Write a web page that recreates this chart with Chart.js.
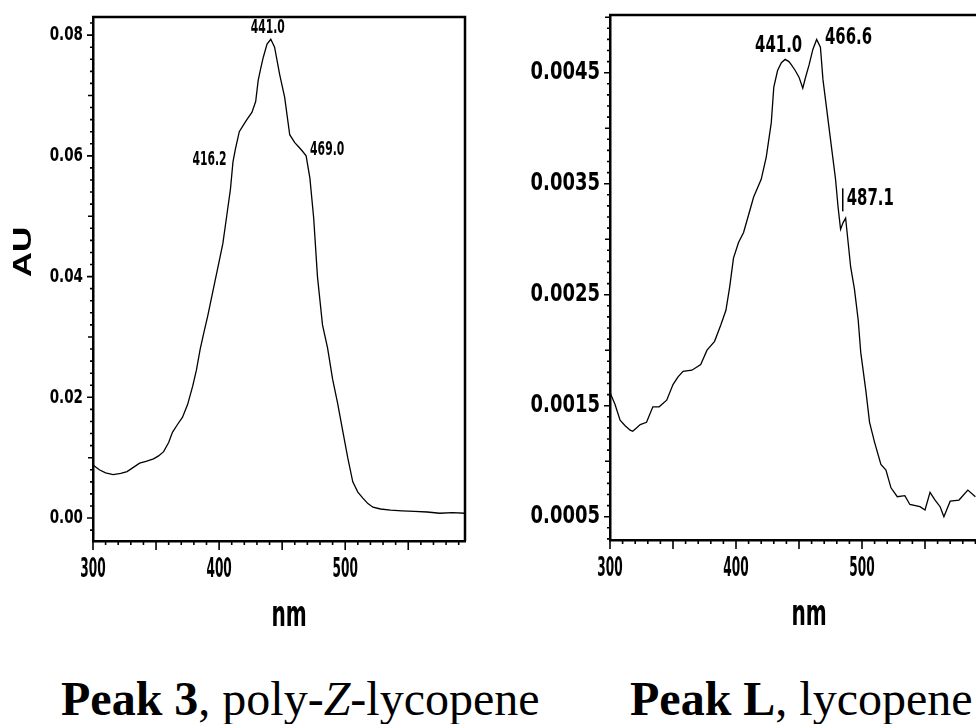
<!DOCTYPE html>
<html>
<head>
<meta charset="utf-8">
<script src="https://cdn.jsdelivr.net/npm/chart.js@4.4.1/dist/chart.umd.min.js"></script>
<style>
  html, body { margin:0; padding:0; background:#fff; overflow:hidden; width:976px; height:724px; }
  .panel { position:absolute; top:0; width:480px; height:640px; }
  #leftWrap { left:0; }
  #rightWrap { left:520px; }
  .caption { position:absolute; top:675px; font-family:'Liberation Serif','Times New Roman',serif;
             font-size:48px; line-height:1; white-space:nowrap; color:#000; }
</style>
</head>
<body>
<div class="panel" id="leftWrap"><canvas id="leftChart"></canvas></div>
<div class="panel" id="rightWrap"><canvas id="rightChart"></canvas></div>
<div class="caption" style="left:61px"><b>Peak 3</b>, poly-<i>Z</i>-lycopene</div>
<div class="caption" style="left:630px"><b>Peak L</b>, lycopene</div>

<script>
// ── Data: Peak 3 (poly-Z-lycopene) ─────────────
const nmLeft = [300,305,310,316,322,327,332,337,342,348,352,356,360,363,367,371,375,379,382,385,
  388,391,395,399,403,406,409,411,413,416,419,422,426,429,431,433,435,438,441,444,
  448,452,456,460,463,466,469,472,475,478,482,486,490,494,498,502,506,510,514,518,
  522,528,536,545,555,565,575,585,595];
const auLeft = [0.0088,0.0080,0.0075,0.0072,0.0074,0.0077,0.0084,0.0091,0.0094,0.0098,0.0103,0.0110,0.0125,0.0142,0.0155,0.0167,0.0188,0.0218,0.0245,0.0280,
  0.0308,0.0335,0.0375,0.0415,0.0455,0.0500,0.0545,0.0590,0.0612,0.0640,0.0650,0.0660,0.0672,0.0690,0.0725,0.0745,0.0763,0.0785,0.0793,0.0780,
  0.0735,0.0697,0.0635,0.0622,0.0615,0.0608,0.0600,0.0563,0.0497,0.0400,0.0320,0.0282,0.0230,0.0190,0.0145,0.0100,0.0060,0.0043,0.0033,0.0024,
  0.0018,0.0015,0.0013,0.0012,0.0011,0.0010,0.0008,0.0009,0.0008];
const yTicksLeft = [0.00, 0.02, 0.04, 0.06, 0.08];
const peaksLeft = [416.2, 441.0, 469.0];

// ── Data: Peak L (lycopene) ────────────────────
const nmRight = [300,304,308,312,316,318,321,324,329,334,339,345,350,354,358,365,372,377,383,388,
  392,395,398,402,406,409,414,420,424,428,430,433,436,439,442,444,447,450,453,455,
  458,461,464,467,469,472,476,479,481,483,485,487,489,491,494,497,499,503,506,510,
  515,519,523,528,534,538,546,550,554,558,562,565,570,577,584,590];
const auRight = [0.00162,0.00151,0.00137,0.00132,0.00128,0.00127,0.00130,0.00133,0.00135,0.00149,0.00149,0.00155,0.00169,0.00176,0.00181,0.00182,0.00187,0.00200,0.00208,0.00223,
  0.00236,0.00257,0.00283,0.00297,0.00306,0.00318,0.00338,0.00354,0.00374,0.00405,0.00437,0.00452,0.00459,0.00462,0.00460,0.00457,0.00452,0.00446,0.00436,0.00445,
  0.00457,0.00471,0.00480,0.00473,0.00444,0.00417,0.00381,0.00354,0.00329,0.00309,0.00315,0.00319,0.00297,0.00275,0.00255,0.00227,0.00198,0.00164,0.00135,0.00117,
  0.00097,0.00092,0.00076,0.00068,0.00069,0.00061,0.00059,0.00056,0.00072,0.00065,0.00059,0.00050,0.00064,0.00065,0.00074,0.00068];
const yTicksRight = [0.0005, 0.0015, 0.0025, 0.0035, 0.0045];
const peaksRight = [441.0, 466.6, 487.1];

const xTickLabels = [300, 400, 500];
const xTitle = 'nm';

// ── Helpers ────────────────────────────────────
const COND = "'DejaVu Sans Condensed','Liberation Sans Narrow',sans-serif";

function interp(xs, ys, v) {
  for (let i = 0; i < xs.length - 1; i++) {
    if (v >= xs[i] && v <= xs[i + 1]) {
      const t = (v - xs[i]) / (xs[i + 1] - xs[i]);
      return ys[i] + t * (ys[i + 1] - ys[i]);
    }
  }
  return ys[ys.length - 1];
}

// squeezed text, the old plotter font is very narrow
function squeezed(ctx, txt, px, py, font, sq, align) {
  ctx.save();
  ctx.translate(px, py);
  ctx.scale(sq, 1);
  ctx.font = font;
  ctx.textAlign = align;
  ctx.textBaseline = 'middle';
  ctx.fillText(txt, 0, 0);
  ctx.restore();
}

// tick marks + frame lines
const frameTicks = {
  id: 'frameTicks',
  afterDraw(chart, args, o) {
    const { ctx, chartArea: a, scales: { x, y } } = chart;
    ctx.save();
    ctx.strokeStyle = '#000';
    ctx.lineWidth = 1.6;
    ctx.beginPath();
    for (let v = 300; v <= x.max; v += 10) {
      const px = x.getPixelForValue(v);
      const len = v % 50 === 0 ? 9 : 4;
      ctx.moveTo(px, a.bottom); ctx.lineTo(px, a.bottom + len);
    }
    const k0 = Math.ceil(y.min / o.yMinor), k1 = Math.floor(y.max / o.yMinor);
    for (let k = k0; k <= k1; k++) {
      const v = k * o.yMinor;
      const py = y.getPixelForValue(v);
      let len = 3;
      if (Math.abs(v / o.yMid - Math.round(v / o.yMid)) < 1e-6) len = 5;
      if (o.labels.some(t => Math.abs(t - v) < o.yMinor / 10)) len = 6;
      ctx.moveTo(a.left, py); ctx.lineTo(a.left - len, py);
    }
    ctx.stroke();
    ctx.lineWidth = 2.5;
    ctx.beginPath();
    ctx.moveTo(a.left - 1, a.top); ctx.lineTo(a.right, a.top);
    if (o.rightEdge) ctx.lineTo(a.right, a.bottom);
    ctx.stroke();
    ctx.restore();
  }
};

// tick labels and axis titles
const axisText = {
  id: 'axisText',
  afterDraw(chart, args, o) {
    const { ctx, chartArea: a, scales: { x, y } } = chart;
    ctx.save();
    ctx.fillStyle = '#000';
    xTickLabels.forEach(v => squeezed(ctx, String(v), x.getPixelForValue(v), a.bottom + 29,
      'bold ' + o.xSize + 'px ' + COND, 0.5, 'center'));
    o.yTicks.forEach(v => squeezed(ctx, v.toFixed(o.dec), a.left - 10, y.getPixelForValue(v),
      'bold ' + o.ySize + 'px ' + COND, o.ySq, 'right'));
    squeezed(ctx, xTitle, (a.left + a.right) / 2 + 10, a.bottom + 76, 'bold 36px ' + COND, 0.62, 'center');
    if (o.yTitle) {
      ctx.save();
      ctx.translate(24, o.yTitleY);
      ctx.rotate(-Math.PI / 2);
      squeezed(ctx, o.yTitle, 0, 0, "bold 25px 'Liberation Sans',Arial,sans-serif", 1.4, 'center');
      ctx.restore();
    }
    ctx.restore();
  }
};

// peak wavelength labels
const peakLabels = {
  id: 'peakLabels',
  afterDatasetsDraw(chart, args, o) {
    const { ctx, scales: { x, y } } = chart;
    const ds = chart.data.datasets[0].data;
    const xs = ds.map(p => p.x), ys = ds.map(p => p.y);
    ctx.save();
    ctx.fillStyle = '#000';
    ctx.strokeStyle = '#000';
    o.peaks.forEach((nm, i) => {
      const s = o.styles[i];
      const px = x.getPixelForValue(nm) + s.dx;
      const py = y.getPixelForValue(interp(xs, ys, nm)) + s.dy;
      squeezed(ctx, nm.toFixed(1), px, py, 'bold ' + o.size + 'px ' + COND, o.squeeze, s.align);
      if (s.bar) {
        ctx.lineWidth = 1.5;
        ctx.beginPath();
        ctx.moveTo(px - 4, py - 11); ctx.lineTo(px - 4, py + 12);
        ctx.stroke();
      }
    });
    ctx.restore();
  }
};

function spectrum(id, c) {
  return new Chart(document.getElementById(id), {
    type: 'line',
    data: {
      datasets: [{
        data: c.nm.map((v, i) => ({ x: v, y: c.au[i] })),
        borderColor: '#000', borderWidth: 1.3, pointRadius: 0, tension: 0, fill: false
      }]
    },
    options: {
      responsive: true, maintainAspectRatio: false, animation: false,
      layout: { padding: c.pad },
      plugins: {
        legend: { display: false }, tooltip: { enabled: false },
        frameTicks: { yMinor: c.yMinor, yMid: c.yMid, labels: c.yTicks, rightEdge: c.rightEdge },
        axisText: { yTicks: c.yTicks, dec: c.dec, xSize: 27, ySize: c.ySize, ySq: c.ySq,
                    yTitle: c.yTitle, yTitleY: c.yTitleY },
        peakLabels: { peaks: c.peaks, styles: c.peakStyles, size: c.peakSize, squeeze: c.squeeze }
      },
      scales: {
        x: {
          type: 'linear', min: 300, max: c.xMax,
          afterBuildTicks: s => { s.ticks = xTickLabels.map(v => ({ value: v })); },
          afterFit: s => { s.height = c.xAxisH; },
          grid: { display: false, drawTicks: false },
          border: { display: true, color: '#000', width: 2.5 },
          ticks: { display: false }
        },
        y: {
          type: 'linear', min: c.yMin, max: c.yMax,
          afterBuildTicks: s => { s.ticks = c.yTicks.map(v => ({ value: v })); },
          afterFit: s => { s.width = c.yAxisW; },
          grid: { display: false, drawTicks: false },
          border: { display: true, color: '#000', width: 2.5 },
          ticks: { display: false }
        }
      }
    },
    plugins: [frameTicks, axisText, peakLabels]
  });
}

spectrum('leftChart', {
  nm: nmLeft, au: auLeft, yTicks: yTicksLeft, peaks: peaksLeft,
  peakStyles: [ { dx: -13, dy: 28, align: 'right' }, { dx: -3, dy: -12, align: 'center' }, { dx: 4, dy: -6, align: 'left' } ],
  peakSize: 20, squeeze: 0.6,
  xMax: 595, yMin: -0.0038, yMax: 0.083, dec: 2, yMinor: 0.002, yMid: 0.01,
  ySize: 20, ySq: 0.75, yTitle: 'AU', yTitleY: 252,
  yAxisW: 93, xAxisH: 99, rightEdge: true,
  pad: { top: 17, right: 15, left: 0, bottom: 0 }
});

spectrum('rightChart', {
  nm: nmRight, au: auRight, yTicks: yTicksRight, peaks: peaksRight,
  peakStyles: [ { dx: -9, dy: -15, align: 'center' }, { dx: 5, dy: -8, align: 'left' }, { dx: 1, dy: -20, align: 'left', bar: true } ],
  peakSize: 23, squeeze: 0.72,
  xMax: 600, yMin: 0.00029, yMax: 0.00502, dec: 4, yMinor: 0.0001, yMid: 0.001,
  ySize: 25, ySq: 0.8, yTitle: '', yTitleY: 0,
  yAxisW: 90, xAxisH: 100, rightEdge: false,
  pad: { top: 15, right: 12, left: 0, bottom: 0 }
});
</script>
</body>
</html>
